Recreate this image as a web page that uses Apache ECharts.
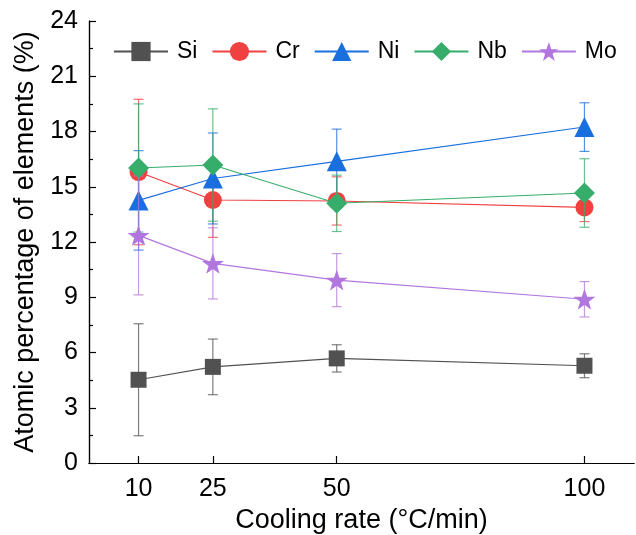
<!DOCTYPE html>
<html>
<head>
<meta charset="utf-8">
<script src="https://cdn.jsdelivr.net/npm/echarts@6/dist/echarts.min.js"></script>
<style>
  html, body { margin: 0; padding: 0; background: #fff; }
  #chart { width: 636px; height: 535px; }
</style>
</head>
<body>
<div id="chart"></div>
<script>
// ---- data ----
const coolingRates = [10, 25, 50, 100];
const xTicks = [10, 25, 50, 100];
const yTicks = [0, 3, 6, 9, 12, 15, 18, 21, 24];
const seriesNames = ['Si', 'Cr', 'Ni', 'Nb', 'Mo'];
const siMean = [4.52, 5.22, 5.68, 5.28];
const siErr  = [3.04, 1.51, 0.74, 0.65];
const crMean = [15.80, 14.28, 14.23, 13.88];
const crErr  = [3.95, 2.03, 1.31, 0.77];
const niMean = [14.26, 15.45, 16.38, 18.24];
const niErr  = [2.70, 2.47, 1.75, 1.32];
const nbMean = [16.02, 16.18, 14.10, 14.66];
const nbErr  = [3.48, 3.05, 1.53, 1.86];
const moMean = [12.36, 10.84, 9.93, 8.89];
const moErr  = [3.23, 1.93, 1.44, 0.96];

// ---- styles ----
const colors = ['#515151', '#F14040', '#1A6FDF', '#37AD6B', '#B177DE'];
const starPath = 'path://M50,0 L61.8,35.1 L98.1,35.1 L68.8,56.8 L79.4,91.3 L50,70 L20.6,91.3 L31.2,56.8 L1.9,35.1 L38.2,35.1 Z';
const symbols = ['rect', 'circle', 'triangle', 'diamond', starPath];
const symbolSizes = [16, 18, 20, 21, 22];
const means = [siMean, crMean, niMean, nbMean, moMean];
const errs = [siErr, crErr, niErr, nbErr, moErr];
const FONT = 'Liberation Sans, Arial, sans-serif';

const series = [];
seriesNames.forEach((name, i) => {
  series.push({
    name: name + '-err',
    type: 'custom',
    z: 2 + i,
    silent: true,
    data: coolingRates.map((x, k) => [x, means[i][k] - errs[i][k], means[i][k] + errs[i][k]]),
    renderItem: function (params, api) {
      const x = api.value(0);
      const lo = api.coord([x, api.value(1)]);
      const hi = api.coord([x, api.value(2)]);
      const hw = 5;
      const style = { stroke: colors[i], lineWidth: 1.2, opacity: 0.75 };
      return {
        type: 'group',
        children: [
          { type: 'line', shape: { x1: lo[0], y1: lo[1], x2: hi[0], y2: hi[1] }, style: style },
          { type: 'line', shape: { x1: lo[0] - hw, y1: lo[1], x2: lo[0] + hw, y2: lo[1] }, style: style },
          { type: 'line', shape: { x1: hi[0] - hw, y1: hi[1], x2: hi[0] + hw, y2: hi[1] }, style: style }
        ]
      };
    }
  });
  series.push({
    name: name,
    type: 'line',
    z: 3 + i,
    data: coolingRates.map((x, k) => [x, means[i][k]]),
    symbol: symbols[i],
    symbolSize: symbolSizes[i],
    symbolKeepAspect: true,
    lineStyle: { color: colors[i], width: 1.1 },
    itemStyle: { color: colors[i], opacity: 1 },
    emphasis: { disabled: true }
  });
});

const chart = echarts.init(document.getElementById('chart'), null, { renderer: 'canvas' });
chart.setOption({
  animation: false,
  backgroundColor: '#fff',
  textStyle: { fontFamily: FONT },
  grid: { left: 89, right: 2, top: 21, bottom: 72, containLabel: false, outerBoundsMode: 'none' },
  legend: {
    data: seriesNames,
    top: 35,
    left: 108,
    itemWidth: 54,
    itemHeight: 24,
    itemGap: 14,
    textStyle: { fontSize: 23, color: '#000', fontFamily: FONT, padding: [0, 0, 0, 4] }
  },
  xAxis: [{
    type: 'value',
    min: 0,
    max: 110,
    name: 'Cooling rate (°C/min)',
    nameLocation: 'middle',
    nameGap: 37,
    nameTextStyle: { fontSize: 27, color: '#000', fontFamily: FONT },
    axisLine: { show: true, onZero: false, lineStyle: { color: '#000', width: 1.2 } },
    axisTick: { show: true, inside: true, length: 7, customValues: xTicks, lineStyle: { color: '#000', width: 1.2 } },
    axisLabel: { customValues: xTicks, fontSize: 25, color: '#000', margin: 14, fontFamily: FONT },
    splitLine: { show: false }
  }, {
    type: 'value', position: 'top', min: 0, max: 110,
    axisLine: { show: true, lineStyle: { color: '#000', width: 1.2 } },
    axisTick: { show: false }, axisLabel: { show: false }, splitLine: { show: false }
  }],
  yAxis: [{
    type: 'value',
    min: 0,
    max: 24,
    interval: 3,
    name: 'Atomic percentage of elements (%)',
    nameLocation: 'middle',
    nameGap: 46,
    nameTextStyle: { fontSize: 27, color: '#000', fontFamily: FONT },
    axisLine: { show: true, onZero: false, lineStyle: { color: '#000', width: 1.2 } },
    axisTick: { show: true, inside: true, length: 7, lineStyle: { color: '#000', width: 1.2 } },
    minorTick: { show: true, splitNumber: 2, length: 4, lineStyle: { color: '#000', width: 1.2 } },
    axisLabel: { fontSize: 25, color: '#000', margin: 11, fontFamily: FONT,
      formatter: v => yTicks.includes(v) ? String(v) : '' },
    splitLine: { show: false }
  }, {
    type: 'value', position: 'right', min: 0, max: 24,
    axisLine: { show: true, lineStyle: { color: '#000', width: 1.2 } },
    axisTick: { show: false }, axisLabel: { show: false }, splitLine: { show: false }
  }],
  series: series
});
</script>
</body>
</html>
